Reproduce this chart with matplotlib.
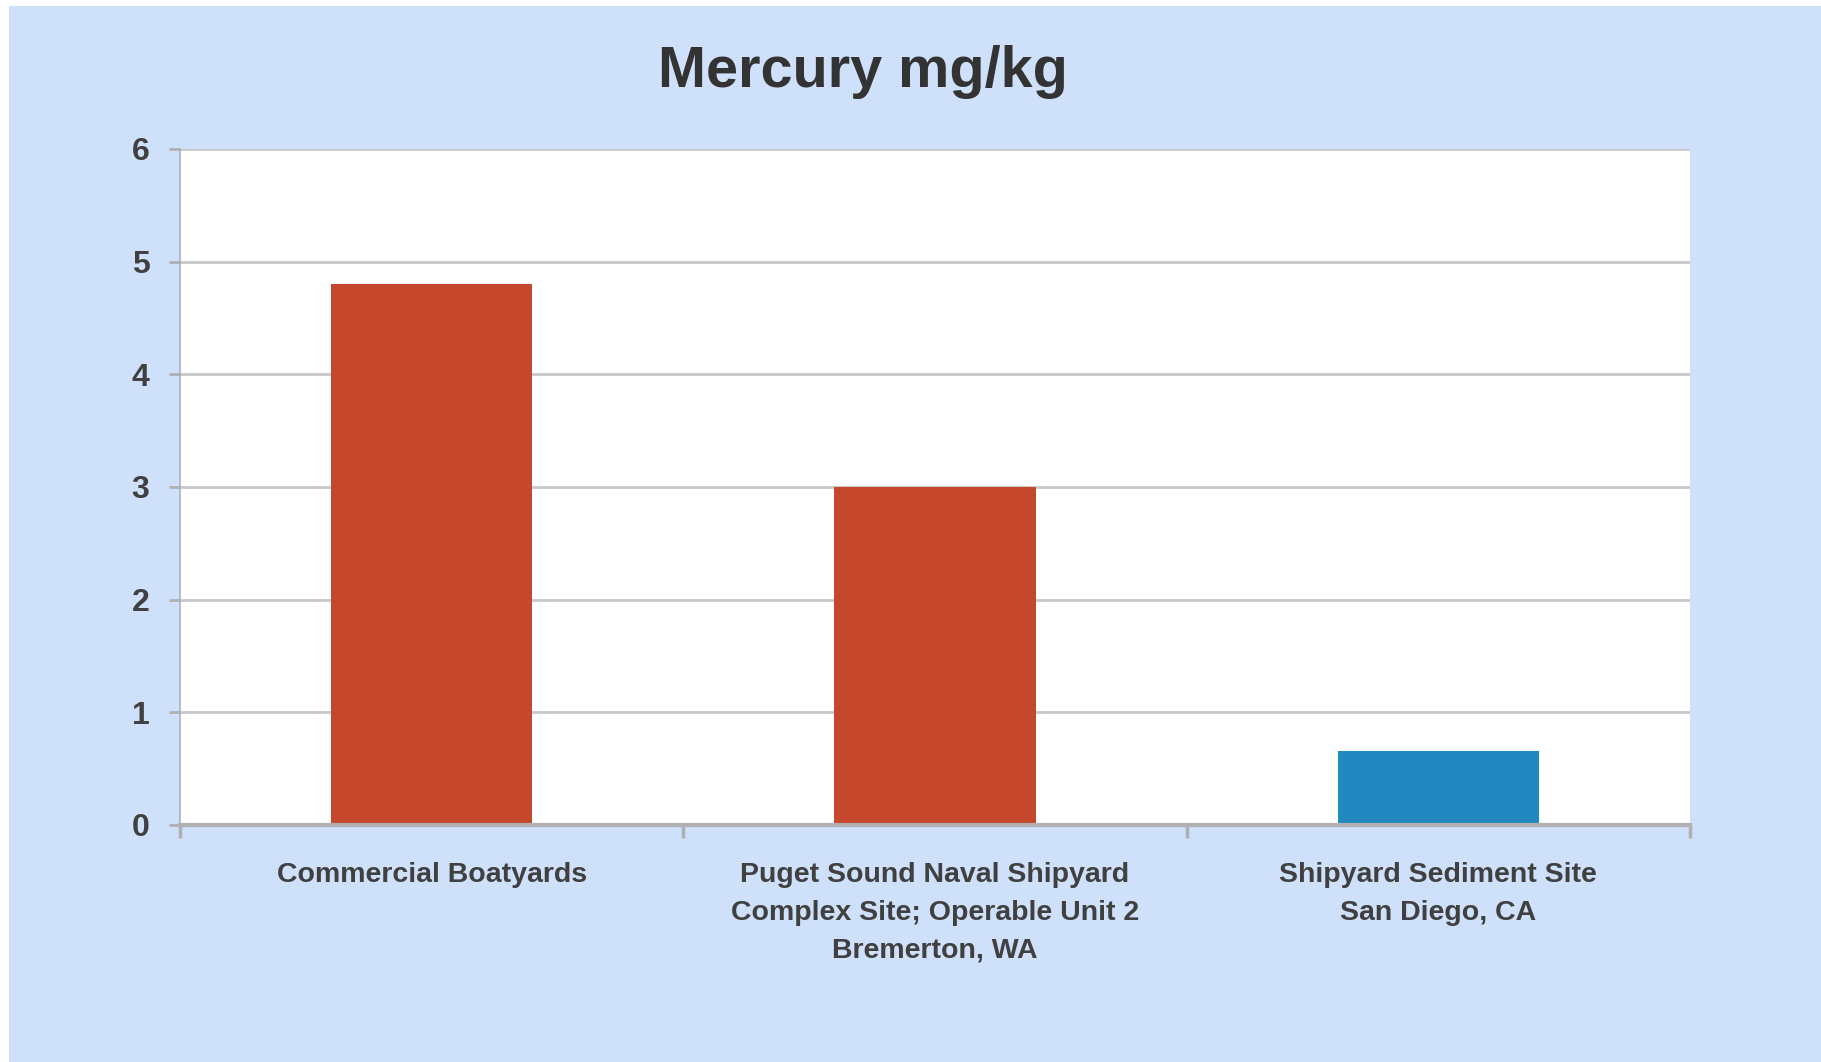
import matplotlib.pyplot as plt
from matplotlib.patches import Rectangle

sites = ["Commercial Boatyards",
         "Puget Sound Naval Shipyard\nComplex Site; Operable Unit 2\nBremerton, WA",
         "Shipyard Sediment Site\nSan Diego, CA"]
mercury = [4.8, 3.0, 0.66]
bar_colors = ["#c5482d", "#c5482d", "#2289c0"]
y_ticks = [0, 1, 2, 3, 4, 5, 6]

plt.rcParams['font.family'] = ['Liberation Sans', 'DejaVu Sans']

fig = plt.figure(figsize=(18.21, 10.62), dpi=100)
fig.patch.set_facecolor("white")

# light blue slide background with a thin white margin top/left
fig.patches.append(Rectangle((9 / 1821, 0), 1 - 9 / 1821, 1 - 6 / 1062,
                             transform=fig.transFigure,
                             facecolor="#cfe0fa", edgecolor="none", zorder=-1))

ax = fig.add_axes([0.0988, 0.2232, 0.8292, 0.6365])
ax.set_facecolor("white")

x = range(len(sites))
ax.bar(x, mercury, width=0.4, color=bar_colors, zorder=3)

ax.set_xlim(-0.5, 2.5)
ax.set_ylim(0, 6)
ax.set_yticks(y_ticks)
ax.yaxis.grid(True, color="#c8c8c8", linewidth=2, zorder=0)

ax.set_xticks(list(x))
ax.set_xticklabels(sites, fontsize=20.5, fontweight="bold", color="#404040",
                   linespacing=1.58)
ax.tick_params(axis="x", length=0, pad=27)
ax.set_xticks([-0.5, 0.5, 1.5, 2.5], minor=True)
ax.tick_params(axis="x", which="minor", length=9, width=2.5, color="#b0b0b0",
               direction="out")

ax.tick_params(axis="y", length=8, width=2, color="#b0b0b0", pad=14,
               labelsize=23, labelcolor="#404040")
for lab in ax.get_yticklabels():
    lab.set_fontweight("bold")

ax.spines["top"].set_visible(False)
ax.spines["right"].set_visible(False)
ax.spines["left"].set_color("#a8b0c8")
ax.spines["left"].set_linewidth(1.2)
ax.spines["bottom"].set_color("#b0b0b0")
ax.spines["bottom"].set_linewidth(3)
ax.spines["bottom"].set_zorder(4)

fig.text(0.474, 0.932, "Mercury mg/kg", ha="center", va="center",
         fontsize=41.5, fontweight="bold", color="#333333")

fig.savefig("out.png", dpi=100, facecolor=fig.get_facecolor())
